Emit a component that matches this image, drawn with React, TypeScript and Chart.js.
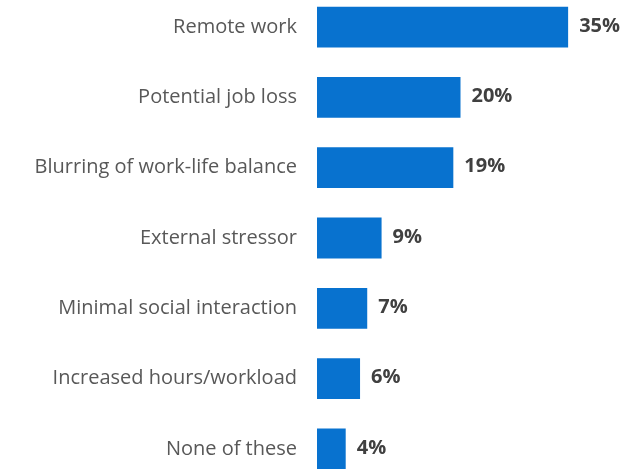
import React, { useEffect, useRef } from "react";
import { Chart, registerables } from "chart.js";

Chart.register(...registerables);

const categories = [
  "Remote work",
  "Potential job loss",
  "Blurring of work-life balance",
  "External stressor",
  "Minimal social interaction",
  "Increased hours/workload",
  "None of these",
];
const values = [35, 20, 19, 9, 7, 6, 4];

const BAR_COLOR = "#0872cf";

const valueLabelPlugin = {
  id: "valueLabels",
  afterDatasetsDraw(chart: any) {
    const { ctx } = chart;
    const meta = chart.getDatasetMeta(0);
    ctx.save();
    ctx.font = "bold 20px 'Open Sans'";
    ctx.fillStyle = "#404040";
    ctx.textAlign = "left";
    ctx.textBaseline = "middle";
    meta.data.forEach((bar: any, i: number) => {
      ctx.fillText(values[i] + "%", bar.x + 11, bar.y - 1);
    });
    ctx.restore();
  },
};

export default function App() {
  const ref = useRef<HTMLCanvasElement>(null);
  useEffect(() => {
    document.body.style.margin = "0";
    document.body.style.overflow = "hidden";
    const chart = new Chart(ref.current!, {
      type: "bar",
      data: {
        labels: categories,
        datasets: [
          {
            data: values,
            backgroundColor: BAR_COLOR,
            barPercentage: 0.58,
            categoryPercentage: 1,
          },
        ],
      },
      options: {
        indexAxis: "y",
        animation: false,
        responsive: false,
        maintainAspectRatio: false,
        layout: { autoPadding: false, padding: { left: 0, right: 20, top: 0, bottom: 0 } },
        plugins: { legend: { display: false }, tooltip: { enabled: false } },
        scales: {
          x: { display: false, min: 0, max: 40 },
          y: {
            afterFit: (scale: any) => {
              scale.width = 317;
            },
            grid: { display: false, drawTicks: false },
            border: { display: false },
            ticks: {
              padding: 20,
              color: "#585858",
              font: { family: "'Open Sans'", size: 20 },
            },
          },
        },
      },
      plugins: [valueLabelPlugin],
    });
    return () => chart.destroy();
  }, []);
  return (
    <div
      style={{
        position: "fixed",
        left: 0,
        top: 0,
        width: 624,
        height: 469,
        overflow: "hidden",
        background: "#ffffff",
      }}
    >
      <div style={{ position: "absolute", left: 0, top: -40, width: 624, height: 556 }}>
        <canvas ref={ref} width={624} height={556} />
      </div>
    </div>
  );
}
